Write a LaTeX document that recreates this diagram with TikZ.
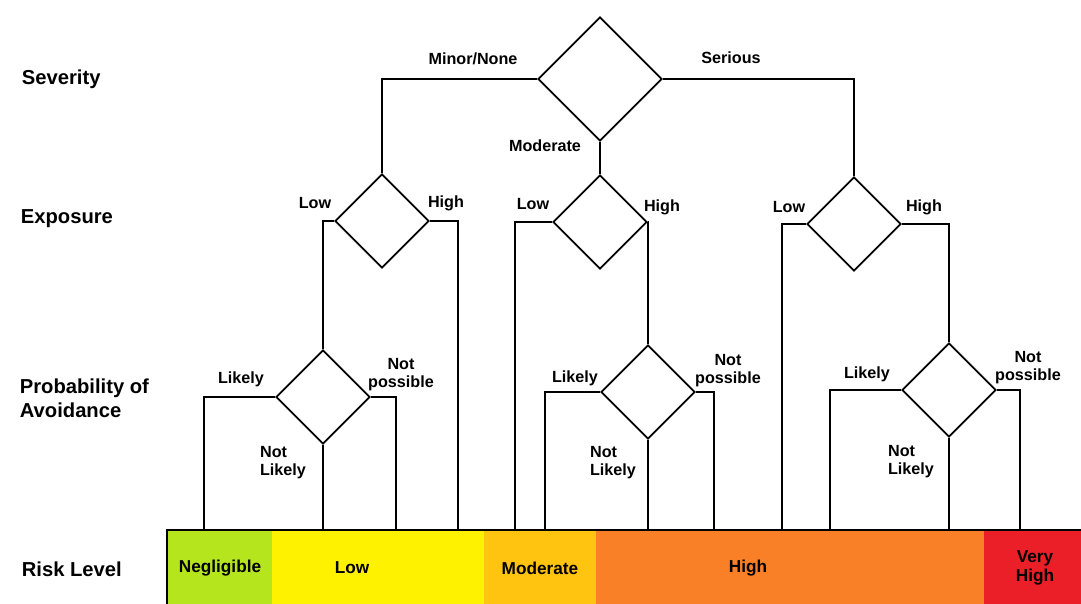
\documentclass[tikz,border=0pt]{standalone}
\usepackage{fontspec}
\setmainfont{Liberation Sans}
\usetikzlibrary{shapes.geometric}

\definecolor{lvlneg}{HTML}{B5E51D}
\definecolor{lvllow}{HTML}{FFF200}
\definecolor{lvlmod}{HTML}{FFC40F}
\definecolor{lvlhigh}{HTML}{FA8028}
\definecolor{lvlvh}{HTML}{EA1F28}

\begin{document}
\begin{tikzpicture}[x=0.02cm, y=-0.02cm, line width=1pt,
  dec/.style={draw, diamond, aspect=1, inner sep=0pt, minimum width=#1, minimum height=#1},
  lbl/.style={font=\bfseries\fontsize{9.2}{10.2}\selectfont, inner sep=0pt},
  head/.style={font=\bfseries\fontsize{11.5}{13.5}\selectfont, anchor=west, align=left, inner sep=0pt}]

  \useasboundingbox (0,0) rectangle (1081,603);

  \def\s{1.88cm};

	%headers
 \node[head] (hsev) at (21,79) {Severity};
 \node[head] (hexp) at (20,219) {Exposure};
 \node[head] (hprob) at (19,398) {Probability of\\Avoidance};
 \node[head] (hrisk) at (21,569) {Risk Level};

	%decisions
 \node[dec=2.48cm] (sev) at (600,79) {};
 \node[dec=\s] (exp1) at (382,221) {};
 \node[dec=\s] (exp2) at (600,222) {};
 \node[dec=\s] (exp3) at (854,224) {};
 \node[dec=\s] (prob1) at (323,397) {};
 \node[dec=\s] (prob2) at (648,392) {};
 \node[dec=\s] (prob3) at (949,390) {};

	%risk level bar
    \foreach \name/\xa/\xb/\col/\tx/\txt in {negl/167/272/lvlneg/220/Negligible, low/272/484/lvllow/352/Low, mod/484/596/lvlmod/540/Moderate, high/596/984/lvlhigh/748/High, vhigh/984/1083/lvlvh/1035/{Very\\High}}{
         \fill[\col] (\xa,530) rectangle (\xb,605);
         \node[font=\bfseries\fontsize{9.8}{11.2}\selectfont, align=center, inner sep=0pt] (\name) at (\tx,568) {\txt};
    }
 \draw[line width=1.5pt] (167,605) |- (1083,530);

	%ends on the bar
    \foreach \name/\x in {b1/204, b2/323, b3/396, b4/458, b5/515, b6/545, b7/648, b8/714, b9/782, b10/830, b11/949, b12/1020}{
         \coordinate (\name) at (\x,530);
    }

	%severity
 \draw (sev.west) -| (exp1.north);
 \draw (sev.south) -- (exp2.north);
 \draw (sev.east) -| (exp3.north);
 \node[lbl] (tminor) at (473,59) {Minor/None};
 \node[lbl] (tmod) at (545,146) {Moderate};
 \node[lbl] (tser) at (731,58) {Serious};

	%exposure
 \draw (exp1.west) -| (prob1.north);
 \draw (exp1.east) -| (b4);
 \draw (exp2.west) -| (b5);
 \draw (exp2.east) -| (prob2.north);
 \draw (exp3.west) -| (b9);
 \draw (exp3.east) -| (prob3.north);
    \foreach \name/\x/\y/\txt in {lo1/315/203/Low, hi1/446/203/High, lo2/533/204/Low, hi2/662/207/High, lo3/789/207/Low, hi3/924/207/High}{
         \node[lbl] (\name) at (\x,\y) {\txt};
    }

	%avoidance
 \draw (prob1.west) -| (b1);
 \draw (prob1.south) -- (b2);
 \draw (prob1.east) -| (b3);
 \draw (prob2.west) -| (b6);
 \draw (prob2.south) -- (b7);
 \draw (prob2.east) -| (b8);
 \draw (prob3.west) -| (b10);
 \draw (prob3.south) -- (b11);
 \draw (prob3.east) -| (b12);
    \foreach \i/\xa/\ya/\xb/\yb/\xc/\yc in {1/241/379/401/375/283/463, 2/575/378/728/371/613/463, 3/867/374/1028/368/911/462}{
         \node[lbl] (lk\i) at (\xa,\ya) {Likely};
         \node[lbl, align=center] (np\i) at (\xb,\yb) {Not\\possible};
         \node[lbl, align=left] (nl\i) at (\xc,\yc) {Not\\Likely};
    }

\end{tikzpicture}
\end{document}
